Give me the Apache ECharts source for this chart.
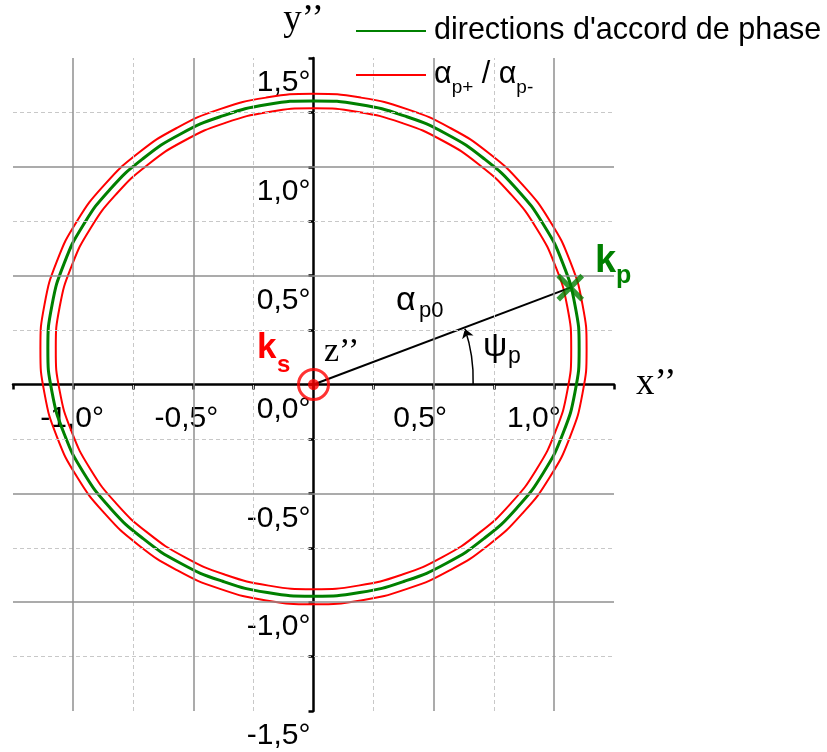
<!DOCTYPE html>
<html>
<head>
<meta charset="utf-8">
<title>directions d'accord de phase</title>
<script src="https://cdn.jsdelivr.net/npm/echarts@6/dist/echarts.min.js"></script>
<style>
  html, body { margin: 0; padding: 0; background: #fff; }
  #chart { width: 827px; height: 752px; }
</style>
</head>
<body>
<div id="chart"></div>
<script>
// noms de la légende
const greenName = "directions d'accord de phase";
const redName = 'alpha_pm';

// courbes fermées : [x'', y''] en degrés (un point tous les 10° environ)
const greenCurve = [
  [1.105, 0.165], [1.088, 0.363], [1.038, 0.554], [0.957, 0.734], [0.846, 0.897], [0.710, 1.037],
  [0.553, 1.151], [0.378, 1.234], [0.192, 1.286], [0, 1.303], [-0.192, 1.286], [-0.378, 1.234],
  [-0.553, 1.151], [-0.710, 1.037], [-0.846, 0.897], [-0.957, 0.734], [-1.038, 0.554], [-1.088, 0.363],
  [-1.105, 0.165], [-1.088, -0.033], [-1.038, -0.224], [-0.957, -0.404], [-0.846, -0.567], [-0.710, -0.707],
  [-0.553, -0.821], [-0.378, -0.904], [-0.192, -0.956], [0, -0.973], [0.192, -0.956], [0.378, -0.904],
  [0.553, -0.821], [0.710, -0.707], [0.846, -0.567], [0.957, -0.404], [1.038, -0.224], [1.088, -0.033]
];
const redOuter = [
  [1.136, 0.163], [1.119, 0.367], [1.068, 0.564], [0.984, 0.750], [0.870, 0.917], [0.730, 1.062],
  [0.568, 1.179], [0.389, 1.265], [0.197, 1.318], [0, 1.336], [-0.197, 1.318], [-0.389, 1.265],
  [-0.568, 1.179], [-0.730, 1.062], [-0.870, 0.917], [-0.984, 0.750], [-1.068, 0.564], [-1.119, 0.367],
  [-1.136, 0.163], [-1.119, -0.041], [-1.068, -0.238], [-0.984, -0.424], [-0.870, -0.591], [-0.730, -0.736],
  [-0.568, -0.853], [-0.389, -0.939], [-0.197, -0.992], [0, -1.010], [0.197, -0.992], [0.389, -0.939],
  [0.568, -0.853], [0.730, -0.736], [0.870, -0.591], [0.984, -0.424], [1.068, -0.238], [1.119, -0.041]
];
const redInner = [
  [1.072, 0.164], [1.056, 0.356], [1.007, 0.542], [0.928, 0.717], [0.821, 0.874], [0.689, 1.010],
  [0.536, 1.121], [0.367, 1.202], [0.186, 1.252], [0, 1.269], [-0.186, 1.252], [-0.367, 1.202],
  [-0.536, 1.121], [-0.689, 1.010], [-0.821, 0.874], [-0.928, 0.717], [-1.007, 0.542], [-1.056, 0.356],
  [-1.072, 0.164], [-1.056, -0.028], [-1.007, -0.214], [-0.928, -0.389], [-0.821, -0.546], [-0.689, -0.682],
  [-0.536, -0.793], [-0.367, -0.874], [-0.186, -0.924], [0, -0.941], [0.186, -0.924], [0.367, -0.874],
  [0.536, -0.793], [0.689, -0.682], [0.821, -0.546], [0.928, -0.389], [1.007, -0.214], [1.056, -0.028]
];

// points et arc psi_p (début sur x'', fin sur la droite alpha_p0)
const ksPoint = [0, 0];
const kpPoint = [1.068, 0.445];
const psiArc = [[0.664, 0], [0.630, 0.256]];

// graduations
const xTickValues = [-1, -0.5, 0.5, 1];
const xTickLabels = ['-1,0°', '-0,5°', '0,5°', '1,0°'];
const yTickValues = [1.5, 1, 0.5, 0, -0.5, -1, -1.5];
const yTickLabels = ['1,5°', '1,0°', '0,5°', '0,0°', '-0,5°', '-1,0°', '-1,5°'];

// lignes de grille
const majorGridX = [-1, -0.5, 0.5, 1];
const majorGridY = [-1, -0.5, 0.5, 1];
const minorGridX = [-0.75, -0.25, 0.25, 0.75];
const minorGridY = [-1.25, -0.75, -0.25, 0.25, 0.75, 1.25];

const SANS = 'Liberation Sans, Arial, sans-serif';
const SERIF = 'Liberation Serif, Times New Roman, serif';
const GREEN = '#008000';
const RED = '#ff0000';

// zone de tracé (les axes passent par x''=0 et y''=0)
const GRID = { left: 13, right: 213, top: 58, bottom: 41 };
const plotW = 827 - GRID.left - GRID.right;
const plotH = 752 - GRID.top - GRID.bottom;

function findIndex(values, v) {
  for (let i = 0; i < values.length; i++) {
    if (Math.abs(values[i] - v) < 1e-6) return i;
  }
  return -1;
}

const solidLine = { color: '#8f8f8f', width: 1.5, type: 'solid' };
const dashLine = { color: '#c8c8c8', width: 1, type: [4, 3] };
const gridLines = []
  .concat(minorGridX.map(v => ({ xAxis: v, lineStyle: dashLine })))
  .concat(minorGridY.map(v => ({ yAxis: v, lineStyle: dashLine })))
  .concat(majorGridX.map(v => ({ xAxis: v, lineStyle: solidLine })))
  .concat(majorGridY.map(v => ({ yAxis: v, lineStyle: solidLine })));

// courbe fermée lissée, placée avec api.coord
function closedCurve(name, points, color, width) {
  return {
    name: name,
    type: 'custom',
    coordinateSystem: 'cartesian2d',
    silent: true,
    z: 3,
    data: [[0, 0]],
    renderItem: function (params, api) {
      return {
        type: 'polygon',
        shape: { points: points.map(p => api.coord(p)), smooth: 0.5 },
        style: { fill: 'none', stroke: color, lineWidth: width }
      };
    }
  };
}

const chart = echarts.init(document.getElementById('chart'), null, { renderer: 'canvas' });

chart.setOption({
  animation: false,
  backgroundColor: '#fff',
  grid: Object.assign({ containLabel: false, outerBoundsMode: 'none' }, GRID),
  legend: {
    orient: 'vertical',
    left: 350,
    top: 8,
    itemWidth: 70,
    itemHeight: 14,
    itemGap: 4,
    selectedMode: false,
    itemStyle: { opacity: 0 },
    data: [greenName, redName],
    textStyle: {
      fontFamily: SANS, fontSize: 30.5, color: '#000', lineHeight: 36, padding: [0, 0, 0, 3],
      rich: {
        a: { fontFamily: SANS, fontSize: 30.5, color: '#000', lineHeight: 44 },
        s: { fontFamily: SANS, fontSize: 19, color: '#000', lineHeight: 19, verticalAlign: 'bottom' }
      }
    },
    formatter: function (name) {
      if (name === redName) return '{a|α}{s|p+}{a| / α}{s|p-}';
      return name;
    }
  },
  xAxis: {
    type: 'value',
    min: -1.25,
    max: 1.25,
    interval: 0.25,
    position: 'bottom',
    offset: -plotH / 2,
    z: 2,
    name: 'x’’',
    nameLocation: 'end',
    nameGap: 22,
    nameTextStyle: { fontFamily: SERIF, fontSize: 37, color: '#000', padding: [0, 0, 16, 0] },
    axisLine: { show: true, onZero: false, lineStyle: { color: '#000', width: 2.5 } },
    axisTick: { show: true, length: 5, lineStyle: { color: '#000', width: 2.5 } },
    splitLine: { show: false },
    axisLabel: {
      show: true,
      margin: 19,
      hideOverlap: false,
      showMinLabel: true,
      showMaxLabel: true,
      fontFamily: SANS,
      fontSize: 30,
      color: '#000',
      formatter: function (v) {
        const i = findIndex(xTickValues, v);
        return i < 0 ? '' : '{l' + i + '|' + xTickLabels[i] + '}';
      },
      rich: {
        l0: { fontFamily: SANS, fontSize: 30, color: '#000', padding: [0, 2, 0, 0] },
        l1: { fontFamily: SANS, fontSize: 30, color: '#000', padding: [0, 14, 0, 0] },
        l2: { fontFamily: SANS, fontSize: 30, color: '#000', padding: [0, 27, 0, 0] },
        l3: { fontFamily: SANS, fontSize: 30, color: '#000', padding: [0, 40, 0, 0] }
      }
    }
  },
  yAxis: {
    type: 'value',
    min: -1.5,
    max: 1.5,
    interval: 0.25,
    position: 'left',
    offset: -plotW / 2,
    z: 2,
    name: 'y’’',
    nameLocation: 'end',
    nameGap: 19,
    nameTextStyle: { fontFamily: SERIF, fontSize: 37, color: '#000', padding: [0, 20, 0, 0] },
    axisLine: { show: true, onZero: false, lineStyle: { color: '#000', width: 2.5 } },
    axisTick: { show: true, length: 5, lineStyle: { color: '#000', width: 2.5 } },
    splitLine: { show: false },
    axisLabel: {
      show: true,
      margin: 3,
      hideOverlap: false,
      showMinLabel: true,
      showMaxLabel: true,
      fontFamily: SANS,
      fontSize: 30,
      color: '#000',
      verticalAlign: 'top',
      padding: [10, 0, 0, 0],
      formatter: function (v) {
        const i = findIndex(yTickValues, v);
        return i < 0 ? '' : yTickLabels[i];
      }
    }
  },
  series: [
    {
      name: 'grille',
      type: 'line',
      data: [],
      silent: true,
      z: 1,
      markLine: {
        silent: true,
        animation: false,
        symbol: ['none', 'none'],
        label: { show: false },
        data: gridLines
      }
    },
    // entrées de légende
    {
      name: greenName,
      type: 'line',
      data: [],
      symbol: 'none',
      itemStyle: { color: GREEN },
      lineStyle: { color: GREEN, width: 3 }
    },
    {
      name: redName,
      type: 'line',
      data: [],
      symbol: 'none',
      itemStyle: { color: RED },
      lineStyle: { color: RED, width: 2 }
    },
    closedCurve('accord de phase', greenCurve, GREEN, 3),
    closedCurve('alpha p+', redOuter, RED, 2),
    closedCurve('alpha p-', redInner, RED, 2),
    {
      name: 'alpha_p0',
      type: 'line',
      data: [ksPoint, kpPoint],
      symbol: 'none',
      z: 4,
      lineStyle: { color: '#000', width: 2 }
    },
    {
      name: 'psi_p',
      type: 'lines',
      coordinateSystem: 'cartesian2d',
      z: 4,
      symbol: ['none', 'arrow'],
      symbolSize: 9,
      lineStyle: { color: '#000', width: 1.5, opacity: 1, curveness: -0.09 },
      data: [{ coords: psiArc }]
    },
    {
      name: 'kp',
      type: 'scatter',
      data: [kpPoint],
      symbol: 'path://M0,0L10,10M10,0L0,10',
      symbolSize: 24,
      z: 5,
      itemStyle: { color: 'none', borderColor: GREEN, borderWidth: 5 }
    },
    {
      name: 'ks ring',
      type: 'scatter',
      data: [ksPoint],
      symbol: 'circle',
      symbolSize: 30,
      z: 5,
      itemStyle: { color: 'rgba(0,0,0,0)', borderColor: RED, borderWidth: 3 }
    },
    {
      name: 'ks dot',
      type: 'scatter',
      data: [ksPoint],
      symbol: 'circle',
      symbolSize: 11,
      z: 6,
      itemStyle: { color: RED }
    }
  ],
  graphic: [
    { type: 'text', x: 257, y: 348, z: 10, style: { text: 'k', fill: RED, fontFamily: SANS, fontWeight: 'bold', fontSize: 35, align: 'left', verticalAlign: 'middle' } },
    { type: 'text', x: 277, y: 365, z: 10, style: { text: 's', fill: RED, fontFamily: SANS, fontWeight: 'bold', fontSize: 24, align: 'left', verticalAlign: 'middle' } },
    { type: 'text', x: 324, y: 352, z: 10, style: { text: 'z’’', fill: '#000', fontFamily: SERIF, fontSize: 34, align: 'left', verticalAlign: 'middle' } },
    { type: 'text', x: 396, y: 301, z: 10, style: { text: 'α', fill: '#000', fontFamily: SANS, fontSize: 34, align: 'left', verticalAlign: 'middle' } },
    { type: 'text', x: 419, y: 311, z: 10, style: { text: 'p0', fill: '#000', fontFamily: SANS, fontSize: 22, align: 'left', verticalAlign: 'middle' } },
    { type: 'text', x: 483, y: 347, z: 10, style: { text: 'ψ', fill: '#000', fontFamily: SANS, fontSize: 34, align: 'left', verticalAlign: 'middle' } },
    { type: 'text', x: 508, y: 357, z: 10, style: { text: 'p', fill: '#000', fontFamily: SANS, fontSize: 23, align: 'left', verticalAlign: 'middle' } },
    { type: 'text', x: 595, y: 262, z: 10, style: { text: 'k', fill: GREEN, fontFamily: SANS, fontWeight: 'bold', fontSize: 38, align: 'left', verticalAlign: 'middle' } },
    { type: 'text', x: 616, y: 276, z: 10, style: { text: 'p', fill: GREEN, fontFamily: SANS, fontWeight: 'bold', fontSize: 25, align: 'left', verticalAlign: 'middle' } }
  ]
});
</script>
</body>
</html>
